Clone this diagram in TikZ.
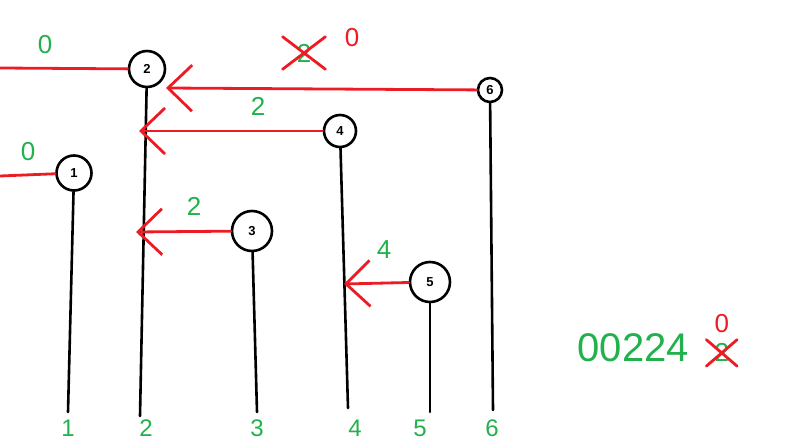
\documentclass[tikz,border=0pt]{standalone}
\usepackage{fontspec}
\setmainfont{Liberation Sans}
\usetikzlibrary{arrows.meta}

\definecolor{paintred}{RGB}{237,28,36}
\definecolor{paintgreen}{RGB}{34,177,76}

\tikzset{
  head/.style={draw, circle, line width=2.6pt, inner sep=0pt,
    font=\fontsize{13}{13}\selectfont\bfseries},
  stick/.style={line width=2.6pt, line cap=round},
  link/.style={draw=paintred, line width=2.8pt, line cap=round},
  jump/.style={link, -{Straight Barb[length=24pt,width=46pt]}},
  num/.style={text=paintgreen, font=\fontsize{26}{26}\selectfont},
  oldnum/.style={num, inner xsep=8pt, inner ysep=4pt},
  cross/.style={draw=paintred, line width=2.8pt, line cap=round},
}

\begin{document}
\begin{tikzpicture}[x=1pt, y=-1pt]  % one unit is one pixel of the sketch
    \useasboundingbox (0,0) rectangle (787,443);

    % Heads of the sticks
    \node[head, minimum size=35pt] (p1) at (74,173) {1};
    \node[head, minimum size=36pt] (p2) at (147,69) {2};
    \node[head, minimum size=40pt] (p3) at (252,231) {3};
    \node[head, minimum size=32pt] (p4) at (340,131) {4};
    \node[head, minimum size=40pt] (p5) at (430,282) {5};
    \node[head, minimum size=24pt] (p6) at (490,90) {6};

    % Sticks down to the floor, with their numbers
    \foreach \i/\x/\y/\lx in {1/68/412/68, 2/140/416/146, 3/257/412/257,
                              4/348/408/355, 5/430/412/420, 6/493/410/492} {
        \coordinate (b\i) at (\x,\y);
        \draw[stick] (p\i) -- (b\i);
        \node[num, font=\fontsize{24}{24}\selectfont] (f\i) at (\lx,428) {\i};
    }

    % Links running off to the left
    \coordinate (w2) at (0,68);
    \coordinate (w1) at (0,176);
    \draw[link] (w2) -- (p2);
    \draw[link] (w1) -- (p1);
    \node[num] (n2) at (45,45) {0};
    \node[num] (n1) at (28,152) {0};

    % Jumps to the next taller stick
    \coordinate (t6) at (166,88);
    \coordinate (t4) at (139,131);
    \coordinate (t3) at (136,232);
    \coordinate (t5) at (344,284);
    \draw[jump] (p6) -- (t6);
    \draw[jump] (p4) -- (t4);
    \draw[jump] (p3) -- (t3);
    \draw[jump] (p5) -- (t5);

    % Distances on the jumps
    \node[oldnum, inner xsep=14pt, inner ysep=7pt] (n6) at (304,53) {2};
    \draw[cross] (n6.north west) -- (n6.south east)
                 (n6.south west) -- (n6.north east);
    \node[num, text=paintred] (n6new) at (352,38) {0};
    \node[num] (n4) at (258,106) {2};
    \node[num] (n3) at (194,206) {2};
    \node[num] (n5) at (384,250) {4};

    % Result list
    \node[num, font=\fontsize{40}{40}\selectfont, anchor=base west] (res) at (574,362) {00224};
    \node[oldnum, anchor=base west] (last) at ([xshift=14pt]res.base east) {2};
    \draw[cross] (last.north west) -- (last.south east)
                 (last.south west) -- (last.north east);
    \node[num, text=paintred, anchor=south] (lastnew) at ([yshift=3pt]last.north) {0};
\end{tikzpicture}
\end{document}
